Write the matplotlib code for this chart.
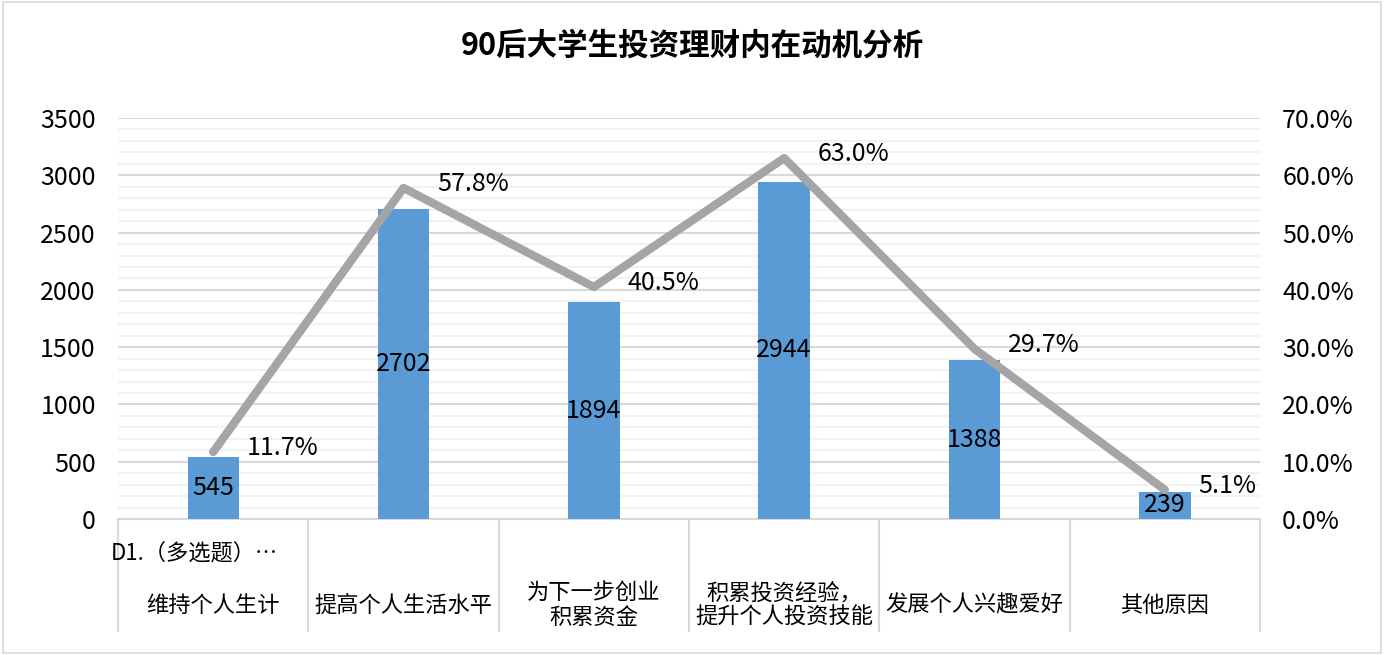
import numpy as np
import matplotlib
matplotlib.use('Agg')
import matplotlib.pyplot as plt
from matplotlib.ticker import MultipleLocator, FuncFormatter
import matplotlib.transforms as mtransforms

plt.rcParams['font.family'] = ['Noto Sans CJK SC', 'DejaVu Sans']

categories = ['维持个人生计', '提高个人生活水平', '为下一步创业\n积累资金',
              '积累投资经验，\n提升个人投资技能', '发展个人兴趣爱好', '其他原因']
counts = [545, 2702, 1894, 2944, 1388, 239]
shares = [11.7, 57.8, 40.5, 63.0, 29.7, 5.1]
group_label = 'D1.（多选题）…'
title = '90后大学生投资理财内在动机分析'

bar_color = '#5B9BD5'
line_color = '#A5A5A5'

fig = plt.figure(figsize=(13.84, 6.55), dpi=100)
ax = fig.add_axes([0.0853, 0.2076, 0.8251, 0.6122])
ax2 = ax.twinx()

x = np.arange(len(categories))
ax.bar(x, counts, width=0.27, color=bar_color, zorder=3)
ax.set_xlim(-0.5, len(categories) - 0.5)
ax.set_ylim(0, 3500)
ax.yaxis.set_major_locator(MultipleLocator(500))
ax.yaxis.set_minor_locator(MultipleLocator(100))
ax.grid(axis='y', which='major', color='#D9D9D9', linewidth=1.5, zorder=0)
ax.grid(axis='y', which='minor', color='#F2F2F2', linewidth=1.5, zorder=0)
ax.set_axisbelow(True)
ax.set_xticks([])
for s in ['top', 'left', 'right']:
    ax.spines[s].set_visible(False)
ax.spines['bottom'].set_color('#D9D9D9')
ax.spines['bottom'].set_linewidth(1.5)
ax.tick_params(axis='y', which='both', length=0, labelsize=18, pad=16)

for xi, v in zip(x, counts):
    ax.text(xi, v / 2, str(v), ha='center', va='center', fontsize=18, zorder=5)

ax2.plot(x, shares, color=line_color, linewidth=6, zorder=4, solid_capstyle='round')
ax2.set_ylim(0, 70)
ax2.yaxis.set_major_locator(MultipleLocator(10))
ax2.yaxis.set_major_formatter(FuncFormatter(lambda v, p: f'{v:.1f}%'))
ax2.tick_params(axis='y', length=0, labelsize=18, pad=16)
for s in ['top', 'left', 'right', 'bottom']:
    ax2.spines[s].set_visible(False)
for xi, v in zip(x, shares):
    ax2.annotate(f'{v:.1f}%', (xi, v), xytext=(24, 3), textcoords='offset points',
                 ha='left', va='center', fontsize=18)

# multi-level category axis
trans = mtransforms.blended_transform_factory(ax.transData, ax.transAxes)
for b in np.arange(-0.5, len(categories), 1.0):
    ax.plot([b, b], [0, -0.28], transform=trans, color='#D9D9D9',
            linewidth=1.5, clip_on=False)
for xi, c in zip(x, categories):
    ax.text(xi, -0.215, c, transform=trans, ha='center', va='center',
            fontsize=16, linespacing=1.1)
ax.text(-0.54, -0.085, group_label, transform=trans, ha='left', va='center', fontsize=16)

fig.text(0.5, 0.93, title, ha='center', va='center', fontsize=22, fontweight='bold')

border = plt.Rectangle((0.002, 0.003), 0.996, 0.994, transform=fig.transFigure,
                       fill=False, edgecolor='#D9D9D9', linewidth=1.2)
fig.patches.append(border)

fig.savefig('out.png', dpi=100)
